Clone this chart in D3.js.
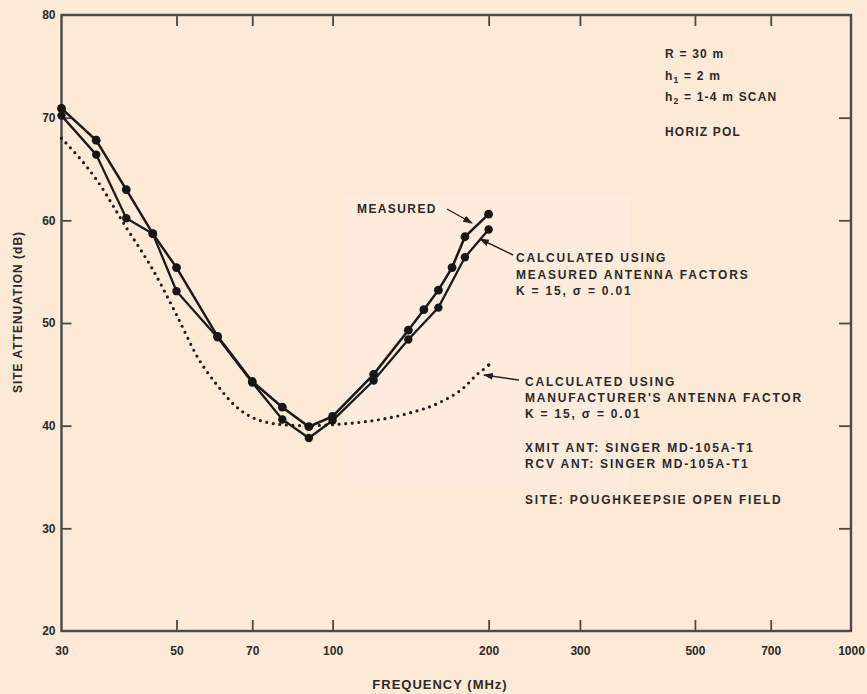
<!DOCTYPE html>
<html><head><meta charset="utf-8">
<script src="https://cdn.jsdelivr.net/npm/d3@7"></script>
<style>
html,body{margin:0;padding:0;background:#fce9d6;}
svg{display:block;}
text{font-family:"Liberation Sans",Arial,sans-serif;font-weight:bold;fill:#2a2a2a;}
</style></head>
<body>
<div id="chart"></div>
<script>
// ---- data ----
const xTickValues = [30, 50, 70, 100, 200, 300, 500, 700, 1000];
const yTickValues = [20, 30, 40, 50, 60, 70, 80];

const measuredFreq = [30, 35, 40, 45, 50, 60, 70, 80, 90, 100, 120, 140, 150, 160, 170, 180, 200];
const measuredDb   = [70.9, 67.8, 63.0, 58.7, 55.4, 48.7, 44.3, 41.8, 39.9, 40.9, 45.0, 49.3, 51.3, 53.2, 55.4, 58.4, 60.6];

const calcMeasFreq = [30, 35, 40, 45, 50, 60, 70, 80, 90, 100, 120, 140, 160, 180, 200];
const calcMeasDb   = [70.2, 66.4, 60.2, 58.7, 53.1, 48.6, 44.2, 40.6, 38.8, 40.5, 44.4, 48.4, 51.5, 56.4, 59.1];

const calcMfrFreq = [30, 35, 40, 45, 50, 55, 60, 65, 70, 75, 80, 90, 100, 120, 140, 160, 180, 190, 200];
const calcMfrDb   = [68.0, 64.0, 59.3, 55.2, 50.8, 46.6, 43.9, 41.9, 40.8, 40.3, 40.1, 40.0, 40.1, 40.5, 41.2, 42.2, 43.8, 45.0, 45.8];

const W = 867, H = 694;
const svg = d3.select("#chart").append("svg").attr("width", W).attr("height", H);

svg.append("rect").attr("width", W).attr("height", H).attr("fill", "#fce9d6");
// faint lighter scanned panel in the middle
svg.append("rect").attr("x", 345).attr("y", 195).attr("width", 285).attr("height", 292).attr("fill", "#fdefe2").attr("opacity", 0.6);

const L = 61.5, R = 851, T = 15, B = 631;
const x = d3.scaleLog().domain([30, 1000]).range([L, R]);
const y = d3.scaleLinear().domain([20, 80]).range([B, T]);

const defs = svg.append("defs");
defs.append("marker").attr("id", "arr").attr("viewBox", "0 0 10 10")
  .attr("refX", 9).attr("refY", 5).attr("markerWidth", 7).attr("markerHeight", 7)
  .attr("orient", "auto").append("path").attr("d", "M0,1.5 L10,5 L0,8.5 Z").attr("fill", "#222");

const axisColor = "#4a4a4a";
const fmt = d => String(d);
const innerTicks = xTickValues.filter(v => v > 30 && v < 1000);
const innerY = yTickValues.filter(v => v > 20 && v < 80);

const gB = svg.append("g").attr("transform", `translate(0,${B})`)
  .call(d3.axisBottom(x).tickValues(xTickValues).tickFormat(fmt).tickSize(0).tickPadding(15));
const gT = svg.append("g").attr("transform", `translate(0,${T})`)
  .call(d3.axisTop(x).tickValues(innerTicks).tickFormat("").tickSize(-11));
const gL = svg.append("g").attr("transform", `translate(${L},0)`)
  .call(d3.axisLeft(y).tickValues(yTickValues).tickFormat(fmt).tickSize(0).tickPadding(6));
const gR = svg.append("g").attr("transform", `translate(${R},0)`)
  .call(d3.axisRight(y).tickValues(innerY).tickFormat("").tickSize(-12));

[gB, gT, gL, gR].forEach(g => {
  g.select(".domain").remove();
  g.selectAll(".tick line").attr("stroke", axisColor).attr("stroke-width", 1.8);
  g.selectAll("text").attr("font-size", 12).attr("fill", "#2a2a2a")
    .style("font-family", "'Liberation Sans',Arial,sans-serif").style("font-weight", "bold");
});
svg.append("g").attr("transform", `translate(0,${B})`)
  .call(d3.axisBottom(x).tickValues(innerTicks).tickFormat("").tickSize(-11))
  .call(g => { g.select(".domain").remove(); g.selectAll(".tick line").attr("stroke", axisColor).attr("stroke-width", 1.8); });
svg.append("g").attr("transform", `translate(${L},0)`)
  .call(d3.axisLeft(y).tickValues(innerY).tickFormat("").tickSize(-10))
  .call(g => { g.select(".domain").remove(); g.selectAll(".tick line").attr("stroke", axisColor).attr("stroke-width", 1.8); });

// frame
svg.append("rect").attr("x", L).attr("y", T).attr("width", R - L).attr("height", B - T)
  .attr("fill", "none").attr("stroke", axisColor).attr("stroke-width", 2.4);

// axis titles
svg.append("text").attr("x", 440).attr("y", 689).attr("text-anchor", "middle")
  .attr("font-size", 13).attr("letter-spacing", 1).text("FREQUENCY (MHz)");
svg.append("text").attr("transform", "translate(22,312) rotate(-90)").attr("text-anchor", "middle")
  .attr("font-size", 12).attr("letter-spacing", 1).text("SITE ATTENUATION (dB)");

// ---- series ----
const line = d3.line().x(d => x(d[0])).y(d => y(d[1]));
const mfr = d3.zip(calcMfrFreq, calcMfrDb);
const meas = d3.zip(measuredFreq, measuredDb);
const cmeas = d3.zip(calcMeasFreq, calcMeasDb);

svg.append("path").datum(mfr).attr("d", line.curve(d3.curveMonotoneX)).attr("fill", "none")
  .attr("stroke", "#1e1e1e").attr("stroke-width", 3.2).attr("stroke-linecap", "round")
  .attr("stroke-dasharray", "0 6.6");
line.curve(d3.curveLinear);
svg.append("circle").attr("cx", x(calcMfrFreq[calcMfrFreq.length - 1])).attr("cy", y(calcMfrDb[calcMfrDb.length - 1]) - 1)
  .attr("r", 1.8).attr("fill", "#1e1e1e");

svg.append("path").datum(cmeas).attr("d", line).attr("fill", "none")
  .attr("stroke", "#1a1a1a").attr("stroke-width", 2.3);
svg.append("path").datum(meas).attr("d", line).attr("fill", "none")
  .attr("stroke", "#1a1a1a").attr("stroke-width", 2.5);

svg.append("g").selectAll("circle").data(cmeas).join("circle")
  .attr("cx", d => x(d[0])).attr("cy", d => y(d[1])).attr("r", 4.2).attr("fill", "#161616");
svg.append("g").selectAll("circle").data(meas).join("circle")
  .attr("cx", d => x(d[0])).attr("cy", d => y(d[1])).attr("r", 4.4).attr("fill", "#161616");

// ---- annotations ----
function block(x0, y0, lines, dy) {
  const t = svg.append("text").attr("font-size", 12).attr("letter-spacing", 1.8);
  lines.forEach((ln, i) => {
    const ts = t.append("tspan").attr("x", x0).attr("y", y0 + (Array.isArray(dy) ? dy[i] : i * dy));
    if (typeof ln === "string") ts.text(ln);
    else ln(ts);
  });
  return t;
}
block(665, 58, [
  "R = 30 m",
  ts => { ts.text("h"); ts.append("tspan").attr("font-size", 8.5).attr("dy", 3).text("1"); ts.append("tspan").attr("dy", -3).text(" = 2 m"); },
  ts => { ts.text("h"); ts.append("tspan").attr("font-size", 8.5).attr("dy", 3).text("2"); ts.append("tspan").attr("dy", -3).text(" = 1-4 m SCAN"); },
  "HORIZ POL"
], [0, 21.5, 43, 78]).attr("letter-spacing", 1.2);

svg.append("text").attr("x", 357).attr("y", 213).attr("font-size", 12).attr("letter-spacing", 1.4).text("MEASURED");
block(516, 262, ["CALCULATED USING", "MEASURED ANTENNA FACTORS", "K = 15, σ = 0.01"], 16.5);
block(525, 386, ["CALCULATED USING", "MANUFACTURER'S ANTENNA FACTOR", "K = 15, σ = 0.01"], 16);
block(525, 452, ["XMIT ANT: SINGER MD-105A-T1", "RCV ANT: SINGER MD-105A-T1"], 15.5);
block(525, 504, ["SITE: POUGHKEEPSIE OPEN FIELD"], 0);

const leaders = [
  [[447, 209], [472, 223]],
  [[513, 255], [480, 239]],
  [[519, 380], [484, 375]]
];
leaders.forEach(p => {
  svg.append("line").attr("x1", p[0][0]).attr("y1", p[0][1]).attr("x2", p[1][0]).attr("y2", p[1][1])
    .attr("stroke", "#222").attr("stroke-width", 1.4).attr("marker-end", "url(#arr)");
});
</script>
</body></html>
